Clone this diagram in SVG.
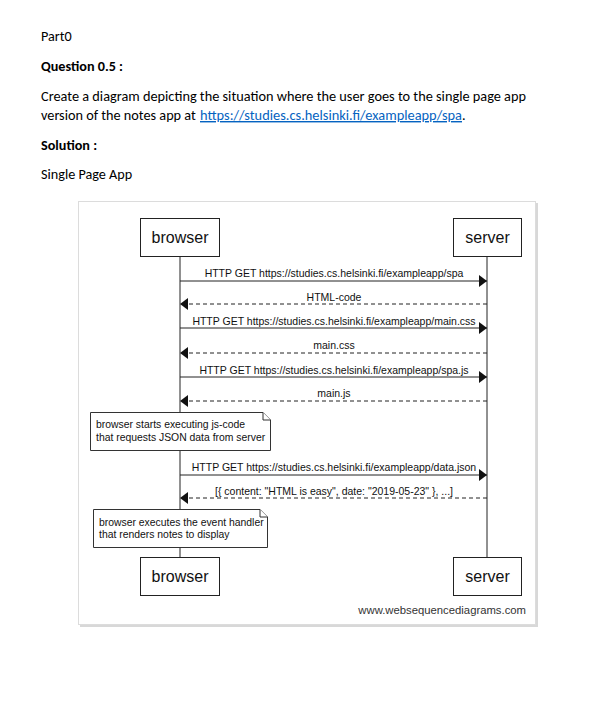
<svg xmlns="http://www.w3.org/2000/svg" width="601" height="726" viewBox="0 0 601 726">
<style>
.doc{font-family:Carlito,"Liberation Sans",Arial,sans-serif;font-size:14.2px;fill:#000}
.b{font-weight:bold}
.link{fill:#0563C1;text-decoration:underline}
.part{fill:#fff;stroke:#222;stroke-width:1}
.ptxt{font-family:"Liberation Sans",Arial,sans-serif;font-size:16px;fill:#111;text-anchor:middle}
.life{stroke:#222;stroke-width:1}
.msg{stroke:#222;stroke-width:1;fill:none}
.dash{stroke-dasharray:4,3}
.lbl{font-family:"Liberation Sans",Arial,sans-serif;font-size:10.5px;fill:#111;text-anchor:middle}
.note{fill:#fff;stroke:#333;stroke-width:1}
.ntxt{font-family:"Liberation Sans",Arial,sans-serif;font-size:10.4px;fill:#111}
</style>
<defs>
<marker id="ah" markerWidth="9" markerHeight="12" refX="8" refY="6" orient="auto" markerUnits="userSpaceOnUse">
<path d="M0,0 L8,6 L0,12 Z" fill="#111"/>
</marker>
</defs>
<rect width="601" height="726" fill="#fff"/>
<g id="doc-text">
<text class="doc" x="41" y="41">Part0</text>
<text class="doc b" x="41" y="71">Question 0.5 :</text>
<text class="doc" x="41" y="101" textLength="485" lengthAdjust="spacingAndGlyphs">Create a diagram depicting the situation where the user goes to the single page app</text>
<text class="doc" x="41" y="120"><tspan textLength="158" lengthAdjust="spacingAndGlyphs">version of the notes app at </tspan><tspan class="link" x="200" textLength="262" lengthAdjust="spacingAndGlyphs">https://studies.cs.helsinki.fi/exampleapp/spa</tspan><tspan x="462">.</tspan></text>
<text class="doc b" x="41" y="150">Solution :</text>
<text class="doc" x="41" y="179">Single Page App</text>
</g>
<g id="frame">
<rect x="80" y="203" width="458" height="424" fill="#d8d8d8"/>
<rect x="78.5" y="201.5" width="457" height="423" fill="#fff" stroke="#dcdcdc" stroke-width="1"/>
</g>
<g id="connectors">
<line class="life" x1="180" y1="256" x2="180" y2="557"/>
<line class="life" x1="487" y1="256" x2="487" y2="557"/>
<line class="msg" x1="180" y1="281" x2="487" y2="281" marker-end="url(#ah)"/>
<text class="lbl" x="334" y="277">HTTP GET https://studies.cs.helsinki.fi/exampleapp/spa</text>
<line class="msg dash" x1="487" y1="304" x2="180" y2="304" marker-end="url(#ah)"/>
<text class="lbl" x="334" y="301">HTML-code</text>
<line class="msg" x1="180" y1="328" x2="487" y2="328" marker-end="url(#ah)"/>
<text class="lbl" x="334" y="325">HTTP GET https://studies.cs.helsinki.fi/exampleapp/main.css</text>
<line class="msg dash" x1="487" y1="353" x2="180" y2="353" marker-end="url(#ah)"/>
<text class="lbl" x="334" y="349">main.css</text>
<line class="msg" x1="180" y1="377" x2="487" y2="377" marker-end="url(#ah)"/>
<text class="lbl" x="334" y="374">HTTP GET https://studies.cs.helsinki.fi/exampleapp/spa.js</text>
<line class="msg dash" x1="487" y1="401" x2="180" y2="401" marker-end="url(#ah)"/>
<text class="lbl" x="334" y="397">main.js</text>
<line class="msg" x1="180" y1="475" x2="487" y2="475" marker-end="url(#ah)"/>
<text class="lbl" x="334" y="471">HTTP GET https://studies.cs.helsinki.fi/exampleapp/data.json</text>
<line class="msg dash" x1="487" y1="498" x2="180" y2="498" marker-end="url(#ah)"/>
<text class="lbl" x="334" y="495">[{ content: "HTML is easy", date: "2019-05-23" }, ...]</text>
</g>
<g id="browser-top">
<rect class="part" x="140.5" y="218.5" width="79" height="38"/>
<text class="ptxt" x="180" y="243">browser</text>
</g>
<g id="server-top">
<rect class="part" x="453.5" y="218.5" width="68" height="38"/>
<text class="ptxt" x="487.5" y="243">server</text>
</g>
<g id="note1">
<path class="note" d="M90.5,412.5 H263 L270.5,420 V450.5 H90.5 Z"/>
<path class="note" d="M263,412.5 V420 H270.5" fill="none"/>
<text class="ntxt" x="96" y="428">browser starts executing js-code</text>
<text class="ntxt" x="96" y="441">that requests JSON data from server</text>
</g>
<g id="note2">
<path class="note" d="M93.5,509.5 H260 L267.5,517 V547.5 H93.5 Z"/>
<path class="note" d="M260,509.5 V517 H267.5" fill="none"/>
<text class="ntxt" x="99" y="526">browser executes the event handler</text>
<text class="ntxt" x="99" y="538">that renders notes to display</text>
</g>
<g id="browser-bottom">
<rect class="part" x="140.5" y="557.5" width="79" height="38"/>
<text class="ptxt" x="180" y="582">browser</text>
</g>
<g id="server-bottom">
<rect class="part" x="453.5" y="557.5" width="68" height="38"/>
<text class="ptxt" x="487.5" y="582">server</text>
</g>
<text x="526" y="614" font-family="'Liberation Sans',Arial,sans-serif" font-size="11.3" fill="#333" text-anchor="end">www.websequencediagrams.com</text>
</svg>
